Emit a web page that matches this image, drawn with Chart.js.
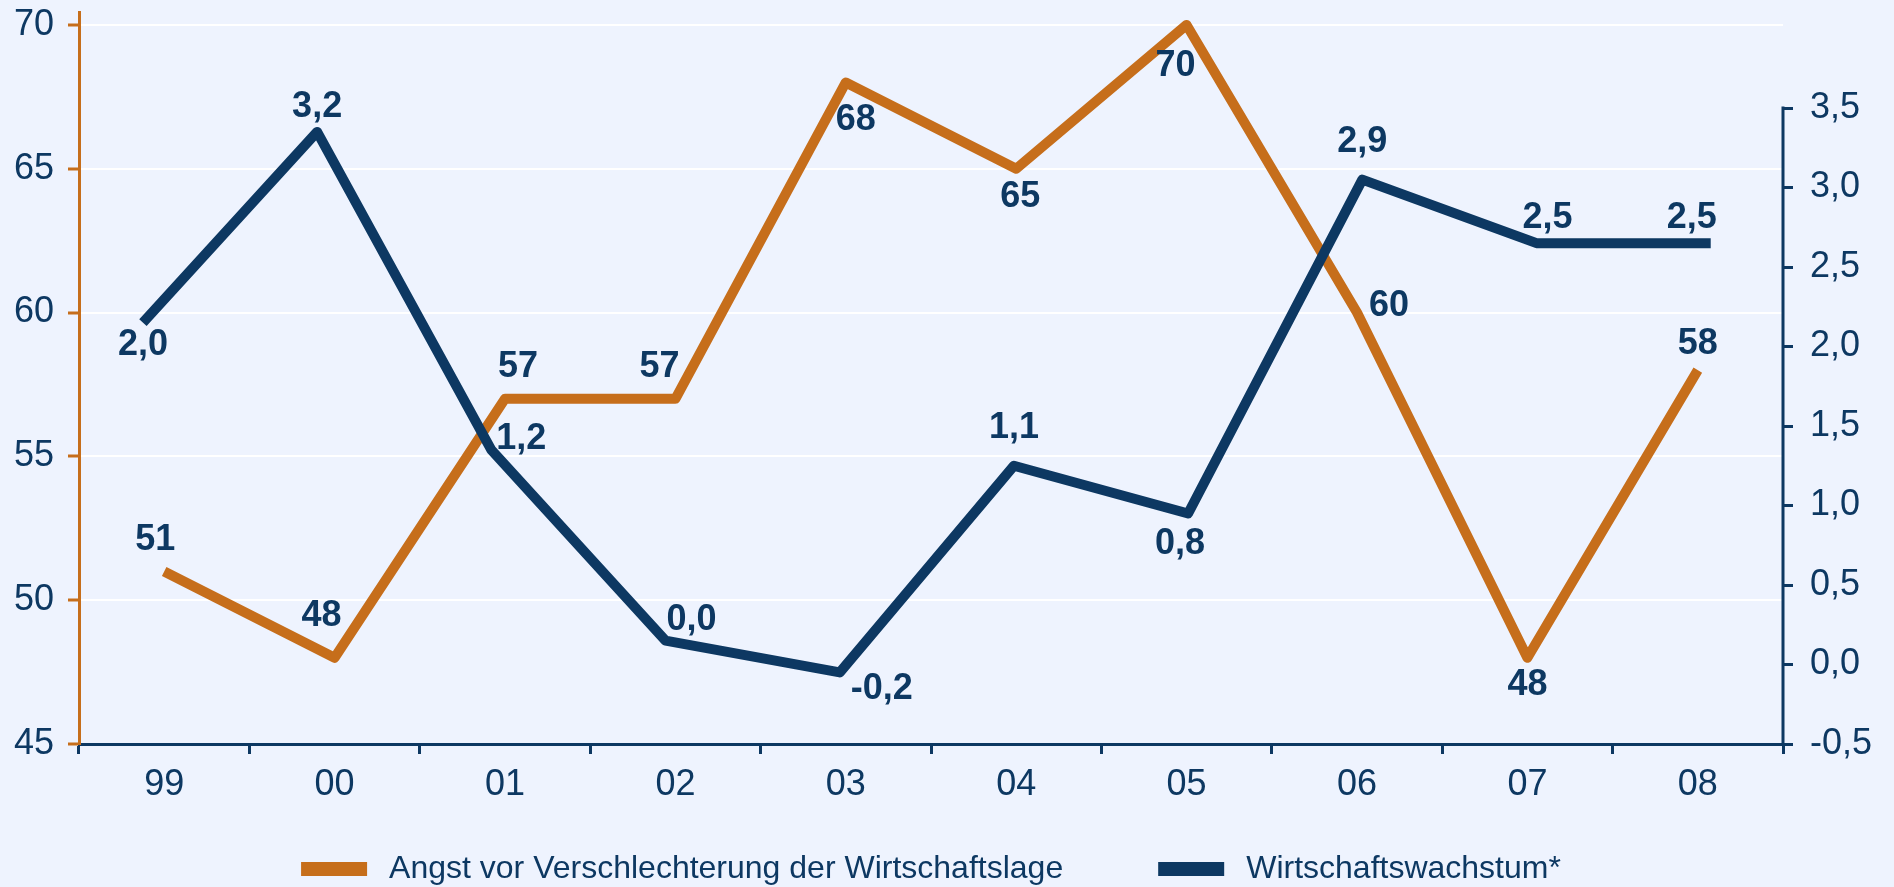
<!DOCTYPE html>
<html lang="de">
<head>
<meta charset="utf-8">
<title>Angst vor Verschlechterung der Wirtschaftslage</title>
<script src="https://cdn.jsdelivr.net/npm/chart.js@4.4.1/dist/chart.umd.min.js"></script>
<style>
  html, body { margin: 0; padding: 0; background: #EEF3FE; }
  canvas { display: block; }
</style>
</head>
<body>
<canvas id="chart" width="1894" height="887"></canvas>
<script>
const years = ['99', '00', '01', '02', '03', '04', '05', '06', '07', '08'];
const angst = [51, 48, 57, 57, 68, 65, 70, 60, 48, 58];
const wachstum = [2.0, 3.2, 1.2, 0.0, -0.2, 1.1, 0.8, 2.9, 2.5, 2.5];
const leftTicks = [45, 50, 55, 60, 65, 70];
const rightTicks = [-0.5, 0, 0.5, 1, 1.5, 2, 2.5, 3, 3.5];
const seriesNames = ['Angst vor Verschlechterung der Wirtschaftslage', 'Wirtschaftswachstum*'];

const ORANGE = '#C66E1B';
const NAVY = '#0D3862';
const FONT = '"Liberation Sans", Arial, Helvetica, sans-serif';

// where each value label sits relative to its point
const angstLabelPos = [[-9, -31], [-13, -42], [13, -32], [-16, -32], [10, 38], [4, 28], [-11, 41], [32, -6], [0, 27], [0, -26]];
const wachstumLabelPos = [[0, 22], [0, -25], [30, -11], [26, -21], [42, 17], [0, -38], [-8, 31], [0, -37], [11, -25], [-19, -25]];

// in the source the growth line is drawn a bit off its own axis:
// about 0.15 higher and on a slightly wider x spacing
const navyShift = 0.15;
const rightMin = -0.5, rightMax = 4.104;

const deNum = v => v.toFixed(1).replace('.', ',');

const fixBox = (w, h) => s => {
  if (w != null) s.width = w;
  if (h != null) s.height = h;
  s.paddingTop = 0; s.paddingBottom = 0; s.paddingLeft = 0; s.paddingRight = 0;
};

// ---------------- plugins ----------------
const valueLabels = {
  id: 'valueLabels',
  afterDatasetsDraw(chart) {
    const ctx = chart.ctx;
    const sets = [
      {meta: chart.getDatasetMeta(0), vals: wachstum, pos: wachstumLabelPos, fmt: deNum},
      {meta: chart.getDatasetMeta(1), vals: angst, pos: angstLabelPos, fmt: v => String(v)}
    ];
    ctx.save();
    ctx.font = 'bold 36px ' + FONT;
    ctx.fillStyle = NAVY;
    ctx.textAlign = 'center';
    ctx.textBaseline = 'middle';
    sets.forEach(s => {
      s.meta.data.forEach((pt, j) => {
        ctx.fillText(s.fmt(s.vals[j]), pt.x + s.pos[j][0], pt.y + s.pos[j][1]);
      });
    });
    ctx.restore();
  }
};

const rightAxisLine = {
  id: 'rightAxisLine',
  beforeDatasetsDraw(chart) {
    const s = chart.scales.yR, a = chart.chartArea, ctx = chart.ctx;
    ctx.save();
    ctx.strokeStyle = NAVY;
    ctx.lineWidth = 3;
    ctx.beginPath();
    ctx.moveTo(a.right, s.getPixelForValue(rightTicks[rightTicks.length - 1]) - 1.5);
    ctx.lineTo(a.right, a.bottom + 1.5);
    ctx.stroke();
    ctx.restore();
  }
};

const bottomLegend = {
  id: 'bottomLegend',
  afterDraw(chart) {
    const ctx = chart.ctx, a = chart.chartArea;
    const items = [{text: seriesNames[0], color: ORANGE}, {text: seriesNames[1], color: NAVY}];
    const boxW = 66, boxH = 14, gap = 22, itemGap = 95, cy = 869;
    ctx.save();
    ctx.font = '32px ' + FONT;
    ctx.textBaseline = 'middle';
    ctx.textAlign = 'left';
    const widths = items.map(it => ctx.measureText(it.text).width);
    let total = 0;
    widths.forEach((w, i) => { total += boxW + gap + w + (i ? 0 : itemGap); });
    let x = (a.left + a.right) / 2 - total / 2;
    items.forEach((it, i) => {
      ctx.fillStyle = it.color;
      ctx.fillRect(x, cy - boxH / 2, boxW, boxH);
      ctx.fillStyle = NAVY;
      ctx.fillText(it.text, x + boxW + gap, cy);
      x += boxW + gap + widths[i] + itemGap;
    });
    ctx.restore();
  }
};

// ---------------- chart ----------------
new Chart(document.getElementById('chart'), {
  type: 'line',
  data: {
    labels: years,
    datasets: [
      {
        label: seriesNames[1],
        data: wachstum.map((v, i) => ({x: i, y: v})),
        xAxisID: 'xN',
        yAxisID: 'yN',
        borderColor: NAVY,
        borderWidth: 10,
        borderCapStyle: 'butt',
        borderJoinStyle: 'round',
        pointRadius: 0,
        tension: 0,
        clip: false
      },
      {
        label: seriesNames[0],
        data: angst,
        xAxisID: 'x',
        yAxisID: 'y',
        borderColor: ORANGE,
        borderWidth: 10,
        borderCapStyle: 'butt',
        borderJoinStyle: 'round',
        pointRadius: 0,
        tension: 0,
        clip: false
      }
    ]
  },
  options: {
    responsive: false,
    animation: false,
    layout: {padding: {top: 12, left: 0, right: 0, bottom: 0}},
    plugins: {
      legend: {display: false},
      tooltip: {enabled: false}
    },
    scales: {
      x: {
        type: 'category',
        position: 'bottom',
        offset: true,
        afterFit: fixBox(null, 143),
        border: {display: true, color: NAVY, width: 3},
        grid: {
          offset: true,
          drawOnChartArea: false,
          tickLength: 10,
          tickColor: NAVY,
          tickWidth: 3
        },
        ticks: {
          color: NAVY,
          padding: 9,
          maxRotation: 0,
          font: {family: FONT, size: 36}
        }
      },
      xN: {
        type: 'linear',
        display: false,
        min: -0.367,
        max: 9.415
      },
      y: {
        type: 'linear',
        position: 'left',
        min: 45,
        max: 70.45,
        afterFit: fixBox(79, null),
        afterBuildTicks: s => { s.ticks = leftTicks.map(v => ({value: v})); },
        border: {display: true, color: ORANGE, width: 3},
        grid: {
          color: '#FFFFFF',
          lineWidth: 2,
          tickLength: 11,
          tickColor: ORANGE,
          tickWidth: 3
        },
        ticks: {
          color: NAVY,
          padding: 14,
          font: {family: FONT, size: 36}
        }
      },
      yR: {
        type: 'linear',
        position: 'right',
        min: rightMin,
        max: rightMax,
        afterFit: fixBox(111, null),
        afterBuildTicks: s => { s.ticks = rightTicks.map(v => ({value: v})); },
        border: {display: false},
        grid: {
          drawOnChartArea: false,
          tickLength: 10,
          tickColor: NAVY,
          tickWidth: 3
        },
        ticks: {
          color: NAVY,
          padding: 17,
          font: {family: FONT, size: 36},
          callback: v => deNum(v)
        }
      },
      yN: {
        type: 'linear',
        display: false,
        min: rightMin - navyShift,
        max: rightMax - navyShift
      }
    }
  },
  plugins: [rightAxisLine, valueLabels, bottomLegend]
});
</script>
</body>
</html>
